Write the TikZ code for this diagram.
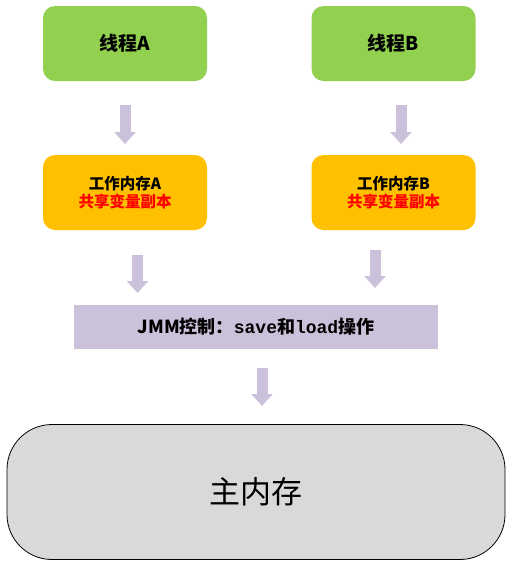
\documentclass[tikz,border=0pt]{standalone}
\usepackage{fontspec}
\newfontfamily\cjk{Noto Sans CJK SC}
\newfontfamily\mono{Liberation Mono}
\usetikzlibrary{arrows.meta}
\definecolor{thgreen}{HTML}{92D050}
\definecolor{wkorange}{HTML}{FFC000}
\definecolor{lav}{HTML}{CCC1DA}
\definecolor{mgray}{HTML}{D9D9D9}
\tikzset{
  thread/.style={fill=thgreen, rounded corners=12pt, minimum width=164pt, minimum height=75pt, inner sep=0pt, font=\cjk\bfseries\fontsize{19}{22}\selectfont},
  work/.style={fill=wkorange, rounded corners=12pt, minimum width=164pt, minimum height=75pt, inner sep=0pt, align=center, font=\cjk\bfseries\fontsize{15.5}{17.5}\selectfont},
  bigarrow/.style={draw=lav, line width=11pt, -{Triangle[width=21pt,length=12pt,fill=lav]}},
}
\begin{document}
\begin{tikzpicture}[x=1pt,y=-1pt]
\useasboundingbox (0,0) rectangle (512,568);
\node[thread] (ta) at (125,43.5) {线程A};
\node[thread] (tb) at (393.5,43.5) {线程B};
\node[work] (wa) at (125,192.5) {工作内存A\\{\color{red}共享变量副本}};
\node[work] (wb) at (393.5,192.5) {工作内存B\\{\color{red}共享变量副本}};
\node[fill=lav, minimum width=364pt, minimum height=44pt, inner sep=0pt, font=\bfseries\fontsize{18}{20}\selectfont] (jmm) at (256,327) {{\cjk JMM控制：}{\mono save}{\cjk 和}{\mono load}{\cjk 操作}};
\node[draw=black, line width=0.8pt, fill=mgray, rounded corners=45pt, minimum width=498pt, minimum height=135pt, inner sep=0pt, font=\cjk\fontsize{31}{36}\selectfont] (mm) at (256,492) {主内存};
\coordinate (a1s) at (125,105); \coordinate (a1e) at (125,144);
\coordinate (b1s) at (401,105); \coordinate (b1e) at (401,144);
\coordinate (a2s) at (137.5,255); \coordinate (a2e) at (137.5,293);
\coordinate (b2s) at (375,250); \coordinate (b2e) at (375,288);
\coordinate (m1s) at (262,368); \coordinate (m1e) at (262,406);
\draw[bigarrow] (a1s) -- (a1e);
\draw[bigarrow] (b1s) -- (b1e);
\draw[bigarrow] (a2s) -- (a2e);
\draw[bigarrow] (b2s) -- (b2e);
\draw[bigarrow] (m1s) -- (m1e);
\end{tikzpicture}
\end{document}
